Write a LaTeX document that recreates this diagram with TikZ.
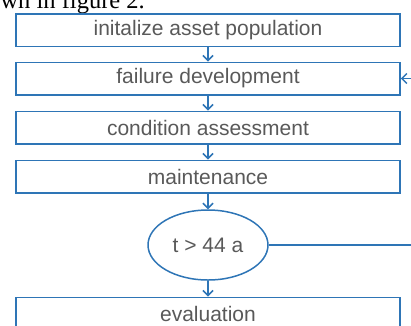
\documentclass[tikz,border=0pt]{standalone}
\usepackage{fontspec}
\setmainfont{Liberation Sans}
\newfontfamily\serifpart{Liberation Serif}
\usetikzlibrary{arrows.meta,shapes.geometric}
\definecolor{flowblue}{HTML}{2E75B6}
\definecolor{flowtext}{HTML}{595959}
\tikzset{
  stepbox/.style={draw=flowblue, line width=1.5pt, minimum width=384pt, minimum height=32.5pt, inner sep=0pt, text=flowtext, font=\fontsize{21}{23}\selectfont, anchor=center},
  decision/.style={draw=flowblue, line width=1.5pt, ellipse, minimum width=120pt, minimum height=70pt, inner sep=0pt, text=flowtext, font=\fontsize{21}{23}\selectfont},
  flow/.style={draw=flowblue, line width=1.5pt, -{Straight Barb[length=5pt,width=10pt,line width=1.5pt]}},
  link/.style={draw=flowblue, line width=1.5pt}
}
\begin{document}
\begin{tikzpicture}[x=1pt,y=-1pt]
\useasboundingbox (0,0) rectangle (411,325);
\clip (0,0) rectangle (411,325);
\node[anchor=base east, font=\serifpart\fontsize{24.5}{26}\selectfont, inner sep=0pt] (caption) at (145,8) {wn in figure 2.};
\node[stepbox] (init) at (208,30) {initalize asset population};
\node[stepbox] (fail) at (208,78.5) {failure development};
\node[stepbox] (cond) at (208,127.5) {condition assessment};
\node[stepbox] (maint) at (208,176.5) {maintenance};
\node[decision] (check) at (208,245) {t > 44 a};
\node[stepbox] (eval) at (208,313.5) {evaluation};
\coordinate (rb) at (425,245);
\coordinate (rt) at (425,78.5);
\draw[flow] (init) -- (fail);
\draw[flow] (fail) -- (cond);
\draw[flow] (cond) -- (maint);
\draw[flow] (maint) -- (check);
\draw[flow] (check) -- (eval);
\draw[link] (check.east) -- (rb) -- (rt);
\draw[flow] (rt) -- (fail.east);
\end{tikzpicture}
\end{document}
